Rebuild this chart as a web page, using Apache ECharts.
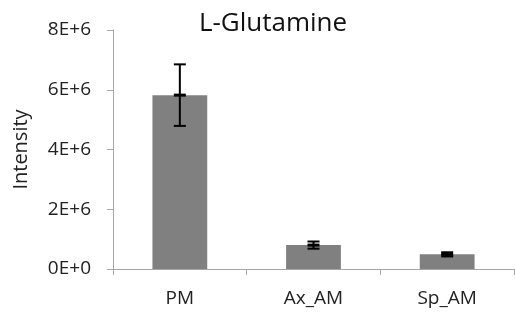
<!DOCTYPE html>
<html>
<head>
<meta charset="utf-8">
<script src="https://cdn.jsdelivr.net/npm/echarts@6/dist/echarts.min.js"></script>
<style>
  html, body { margin: 0; padding: 0; background: #fff; }
  #main { width: 515px; height: 320px; }
</style>
</head>
<body>
<div id="main"></div>
<script>
// 数据
const categories = ["PM", "Ax_AM", "Sp_AM"];
const intensity = [5.82e6, 0.80e6, 0.49e6];
const errorSize = [1.03e6, 0.12e6, 0.07e6];
const yTicks = [0, 2e6, 4e6, 6e6, 8e6];

const chart = echarts.init(document.getElementById("main"));
const font = "'Open Sans', 'Liberation Sans', sans-serif";

// 误差线数据
const errData = categories.map((c, i) => [i, intensity[i] - errorSize[i], intensity[i] + errorSize[i], intensity[i]]);

const option = {
  animation: false,
  title: {
    text: "L-Glutamine",
    left: 268,
    textAlign: "center",
    top: 6,
    textStyle: { fontFamily: font, fontSize: 26, fontWeight: "normal", color: "#111" }
  },
  grid: { left: 113, right: 1, top: 30, bottom: 51 },
  xAxis: {
    type: "category",
    data: categories,
    axisLine: { lineStyle: { color: "#a6a6a6", width: 1 } },
    axisTick: { show: true, length: 6, lineStyle: { color: "#a6a6a6" } },
    axisLabel: { fontFamily: font, fontSize: 19, color: "#222", margin: 20 }
  },
  yAxis: {
    type: "value",
    min: yTicks[0],
    max: yTicks[yTicks.length - 1],
    interval: 2e6,
    name: "Intensity",
    nameLocation: "middle",
    nameGap: 82,
    nameTextStyle: { fontFamily: font, fontSize: 20, color: "#222" },
    axisLine: { show: true, lineStyle: { color: "#a6a6a6", width: 1 } },
    axisTick: { show: true, length: 6, lineStyle: { color: "#a6a6a6" } },
    splitLine: { show: false },
    axisLabel: {
      fontFamily: font, fontSize: 19, color: "#222", margin: 22,
      formatter: function (v) {
        return (v / 1e6) + "E+" + (v === 0 ? "0" : "6");
      }
    }
  },
  series: [
    {
      type: "bar",
      data: intensity,
      barWidth: "41%",
      itemStyle: { color: "#808080" }
    },
    {
      type: "custom",
      data: errData,
      z: 10,
      renderItem: function (params, api) {
        const x = api.value(0);
        const lo = api.coord([x, api.value(1)]);
        const hi = api.coord([x, api.value(2)]);
        const mid = api.coord([x, api.value(3)]);
        const hw = 6;
        const st = { stroke: "#000", lineWidth: 2 };
        return {
          type: "group",
          children: [
            { type: "line", shape: { x1: hi[0], y1: hi[1], x2: lo[0], y2: lo[1] }, style: st },
            { type: "line", shape: { x1: hi[0] - hw, y1: hi[1], x2: hi[0] + hw, y2: hi[1] }, style: st },
            { type: "line", shape: { x1: lo[0] - hw, y1: lo[1], x2: lo[0] + hw, y2: lo[1] }, style: st },
            { type: "rect", shape: { x: mid[0] - hw, y: mid[1] - 1.5, width: hw * 2, height: 3 }, style: { fill: "#000" } }
          ]
        };
      }
    }
  ]
};

chart.setOption(option);
</script>
</body>
</html>
